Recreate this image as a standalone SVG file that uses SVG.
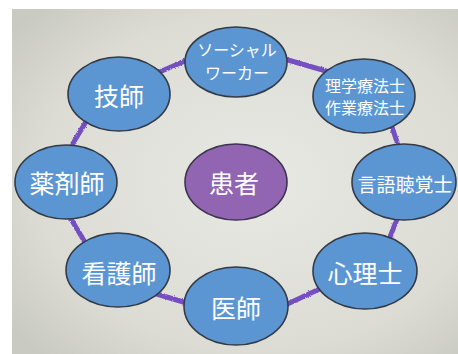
<svg xmlns="http://www.w3.org/2000/svg" width="458" height="354" viewBox="0 0 458 354">
<defs>
<radialGradient id="bg" cx="0.55" cy="0.5" r="0.7">
<stop offset="0" stop-color="#e9e9e4"/>
<stop offset="0.7" stop-color="#dcdcd5"/>
<stop offset="1" stop-color="#c9cac2"/>
</radialGradient>
<filter id="rough" x="-20%" y="-20%" width="140%" height="140%">
<feTurbulence type="fractalNoise" baseFrequency="0.6" numOctaves="2" seed="3"/>
<feDisplacementMap in="SourceGraphic" scale="2.5" xChannelSelector="R" yChannelSelector="G"/>
</filter>
</defs>
<style>
.node{fill:#5b96d3;stroke:#343a46;stroke-width:1.6}
.center{fill:#9165b2;stroke:#3e3350;stroke-width:1.6}
.t{fill:#ffffff;font-family:"Noto Sans CJK JP","Noto Sans CJK SC",sans-serif;text-anchor:middle;dominant-baseline:central}
.big{font-size:25px}
.mid{font-size:19px}
.sm{font-size:16px}
.conn{stroke:#7550c2;stroke-width:5;stroke-linecap:round;fill:none}
</style>
<rect x="0" y="0" width="458" height="354" fill="#ffffff"/>
<rect x="12" y="9" width="446" height="345" fill="url(#bg)"/>
<g id="connectors" filter="url(#rough)">
<path class="conn" d="M150 76 L192 58"/>
<path class="conn" d="M281 58 L326 71"/>
<path class="conn" d="M391 124 L399 148"/>
<path class="conn" d="M399 214 L388 242"/>
<path class="conn" d="M326 286 L281 307"/>
<path class="conn" d="M190 304 L150 292"/>
<path class="conn" d="M86 244 L68 214"/>
<path class="conn" d="M69 150 L87 120"/>
</g>
<g id="node-social">
<ellipse class="node" cx="236" cy="62" rx="51" ry="35"/>
<text class="t sm" x="237" y="49">ソーシャル</text>
<text class="t sm" x="237" y="72">ワーカー</text>
</g>
<g id="node-gishi">
<ellipse class="node" cx="119" cy="94" rx="51" ry="37"/>
<text class="t big" x="119" y="95">技師</text>
</g>
<g id="node-rigaku">
<ellipse class="node" cx="364" cy="96" rx="51" ry="37"/>
<text class="t sm" x="365" y="85">理学療法士</text>
<text class="t sm" x="365" y="107">作業療法士</text>
</g>
<g id="node-yakuzai">
<ellipse class="node" cx="66" cy="182" rx="51" ry="37"/>
<text class="t big" x="67" y="182">薬剤師</text>
</g>
<g id="node-kanja">
<ellipse class="center" cx="236" cy="182" rx="51" ry="38"/>
<text class="t big" x="234" y="182">患者</text>
</g>
<g id="node-gengo">
<ellipse class="node" cx="404" cy="182" rx="52" ry="38"/>
<text class="t mid" x="405" y="183">言語聴覚士</text>
</g>
<g id="node-kango">
<ellipse class="node" cx="118" cy="270" rx="52" ry="37"/>
<text class="t big" x="119" y="272">看護師</text>
</g>
<g id="node-shinri">
<ellipse class="node" cx="365" cy="271" rx="52" ry="38"/>
<text class="t big" x="365" y="272">心理士</text>
</g>
<g id="node-ishi">
<ellipse class="node" cx="236" cy="306" rx="52" ry="39"/>
<text class="t big" x="236" y="307">医師</text>
</g>
</svg>
